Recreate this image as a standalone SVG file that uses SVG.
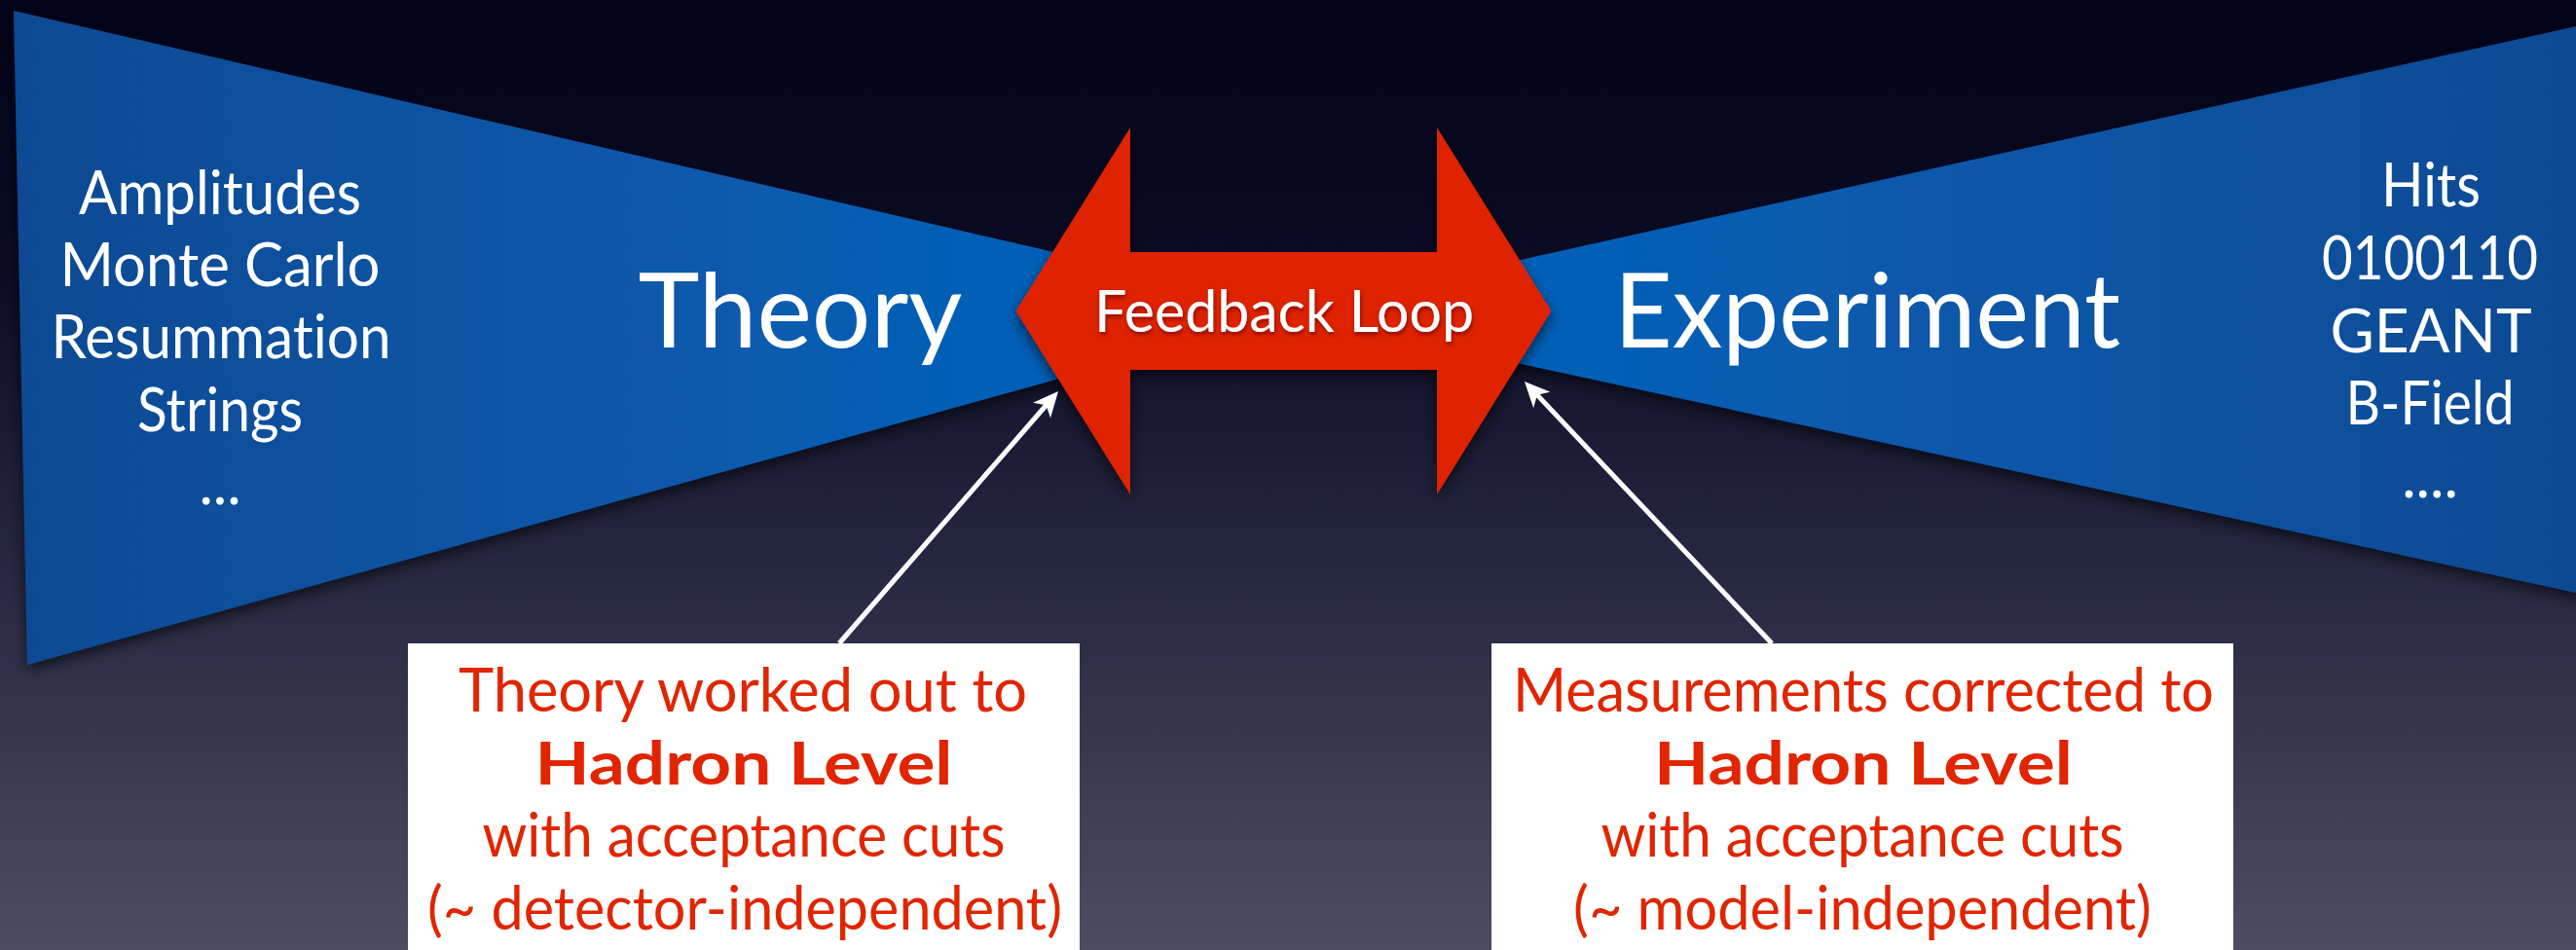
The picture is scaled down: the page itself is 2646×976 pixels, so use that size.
<svg xmlns="http://www.w3.org/2000/svg" width="2646" height="976" viewBox="0 0 2646 976">
  <defs>
    <linearGradient id="bg" x1="0" y1="0" x2="0" y2="1">
      <stop offset="0" stop-color="#020218"/>
      <stop offset="0.3" stop-color="#0c0c26"/>
      <stop offset="0.6" stop-color="#262740"/>
      <stop offset="1" stop-color="#4c4c63"/>
    </linearGradient>
    <linearGradient id="blueL" gradientUnits="userSpaceOnUse" x1="14" y1="0" x2="1160" y2="0">
      <stop offset="0" stop-color="#0b4a93"/>
      <stop offset="1" stop-color="#0563bc"/>
    </linearGradient>
    <linearGradient id="blueR" gradientUnits="userSpaceOnUse" x1="1480" y1="0" x2="2646" y2="0">
      <stop offset="0" stop-color="#0563bc"/>
      <stop offset="1" stop-color="#0b4a93"/>
    </linearGradient>
    <filter id="shade" x="-10%" y="-20%" width="120%" height="150%">
      <feDropShadow dx="0" dy="6" stdDeviation="7" flood-color="#000" flood-opacity="0.6"/>
    </filter>
    <filter id="txtShade" x="-10%" y="-30%" width="120%" height="160%">
      <feDropShadow dx="1" dy="3" stdDeviation="2" flood-color="#500" flood-opacity="0.6"/>
    </filter>
    <marker id="head" viewBox="0 0 26 24" markerWidth="26" markerHeight="24" refX="20" refY="12" orient="auto" markerUnits="userSpaceOnUse">
      <path d="M0,0 L26,12 L0,24 L7,12 z" fill="#ffffff"/>
    </marker>
  </defs>
  <style>
    text { font-family: Lato, "Open Sans", "Liberation Sans", sans-serif; text-anchor: middle; font-variant-ligatures: none; }
    .side { font-size: 61px; fill: #ffffff; }
    .big { font-size: 107px; fill: #ffffff; }
    .loop { font-size: 60px; fill: #ffffff; }
    .note { font-size: 61px; fill: #e02500; }
    .noteB { font-size: 61px; font-weight: 700; fill: #e02500; }
    .box { fill: #ffffff; }
    .link { stroke: #ffffff; stroke-width: 5; fill: none; marker-end: url(#head); }
  </style>

  <!-- backdrop -->
  <rect x="0" y="0" width="2646" height="976" fill="url(#bg)"/>

  <!-- theory funnel -->
  <g id="theory">
    <polygon points="14,11 1160,277 1160,369 28,683" fill="url(#blueL)" filter="url(#shade)"/>
    <text class="side" x="226" y="220" textLength="290" lengthAdjust="spacingAndGlyphs">Amplitudes</text>
    <text class="side" x="226" y="294" textLength="329" lengthAdjust="spacingAndGlyphs">Monte Carlo</text>
    <text class="side" x="227" y="368" textLength="349" lengthAdjust="spacingAndGlyphs">Resummation</text>
    <text class="side" x="226" y="443" textLength="170" lengthAdjust="spacingAndGlyphs">Strings</text>
    <text class="side" x="226" y="518">...</text>
    <text class="big" x="822" y="357" textLength="333" lengthAdjust="spacingAndGlyphs">Theory</text>
  </g>

  <!-- experiment funnel -->
  <g id="experiment">
    <polygon points="1480,285 2660,24 2660,612 1480,356" fill="url(#blueR)" filter="url(#shade)"/>
    <text class="big" x="1918" y="357" textLength="520" lengthAdjust="spacingAndGlyphs">Experiment</text>
    <text class="side" x="2497" y="212" textLength="102" lengthAdjust="spacingAndGlyphs">Hits</text>
    <text class="side" x="2496" y="287" textLength="222" lengthAdjust="spacingAndGlyphs">0100110</text>
    <text class="side" x="2497" y="362" textLength="207" lengthAdjust="spacingAndGlyphs">GEANT</text>
    <text class="side" x="2496" y="436" textLength="173" lengthAdjust="spacingAndGlyphs">B-Field</text>
    <text class="side" x="2496" y="511">....</text>
  </g>

  <!-- double-headed feedback arrow -->
  <g id="feedback">
    <polygon points="1043.5,319.5 1161,131 1161,259 1476,259 1476,131 1593.5,319.5 1476,508 1476,380 1161,380 1161,508" fill="#df2400" filter="url(#shade)"/>
    <text class="loop" x="1319" y="341" textLength="390" lengthAdjust="spacingAndGlyphs" filter="url(#txtShade)">Feedback Loop</text>
  </g>

  <!-- pointers from the notes -->
  <g id="connectors">
    <line class="link" x1="862" y1="661" x2="1083.1" y2="406.5"/>
    <line class="link" x1="1820" y1="661" x2="1570.1" y2="396.4"/>
  </g>

  <!-- theory note -->
  <g id="theory-note">
    <rect class="box" x="419" y="661" width="690" height="330"/>
    <text class="note" x="763" y="731" textLength="584" lengthAdjust="spacingAndGlyphs">Theory worked out to</text>
    <text class="noteB" x="764" y="806" textLength="429" lengthAdjust="spacingAndGlyphs">Hadron Level</text>
    <text class="note" x="764" y="880" textLength="537" lengthAdjust="spacingAndGlyphs">with acceptance cuts</text>
    <text class="note" x="765" y="955" textLength="652" lengthAdjust="spacingAndGlyphs">(~ detector-independent)</text>
  </g>

  <!-- experiment note -->
  <g id="experiment-note">
    <rect class="box" x="1532" y="661" width="762" height="330"/>
    <text class="note" x="1914" y="731" textLength="720" lengthAdjust="spacingAndGlyphs">Measurements corrected to</text>
    <text class="noteB" x="1914" y="806" textLength="430" lengthAdjust="spacingAndGlyphs">Hadron Level</text>
    <text class="note" x="1913" y="880" textLength="537" lengthAdjust="spacingAndGlyphs">with acceptance cuts</text>
    <text class="note" x="1913" y="955" textLength="594" lengthAdjust="spacingAndGlyphs">(~ model-independent)</text>
  </g>
</svg>
